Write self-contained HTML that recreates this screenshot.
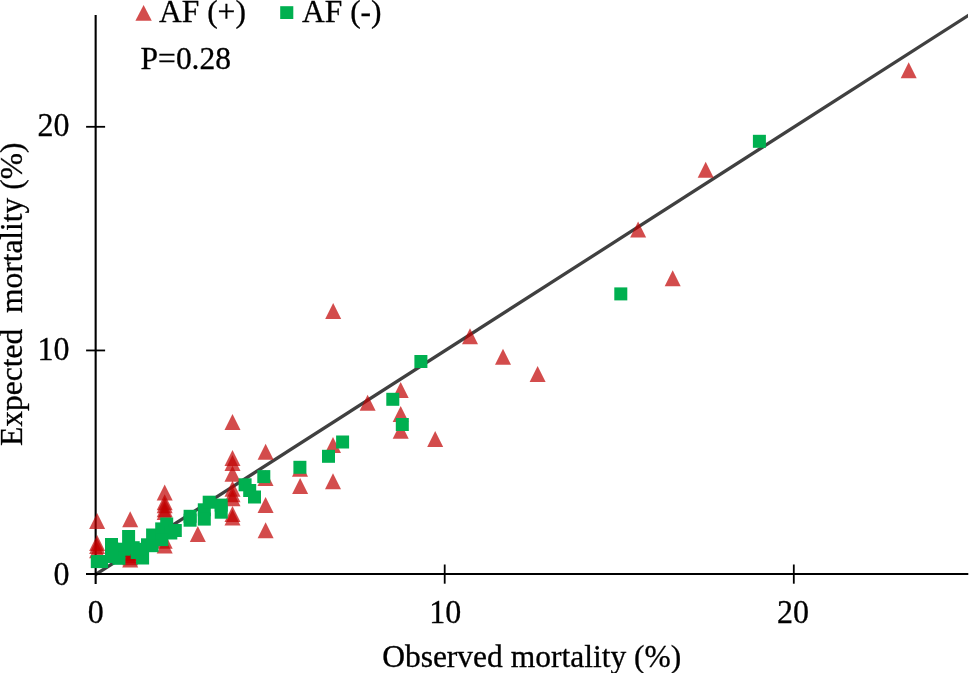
<!DOCTYPE html>
<html><head><meta charset="utf-8"><style>
html,body{margin:0;padding:0;background:#fff;width:969px;height:673px;overflow:hidden}
svg{display:block;will-change:transform}
text{font-family:"Liberation Serif",serif;fill:#000}
</style></head><body>
<svg width="969" height="673" viewBox="0 0 969 673">
<rect width="969" height="673" fill="#fff"/>

<path d="M95.6 572.55L968.0 13.65L968.0 17.55L95.6 576.45Z" fill="#404040"/>
<g stroke="#000" fill="none">
<path d="M95.65 15V584" stroke-width="2.1"/>
<path d="M86 574H968.3" stroke-width="2"/>
<path d="M86.1 350.45H105.1" stroke-width="1.8"/>
<path d="M86.1 126.80H105.1" stroke-width="1.8"/>
<path d="M444.70 564.5V583.7" stroke-width="1.8"/>
<path d="M793.80 564.5V583.7" stroke-width="1.8"/>
</g>
<g fill="#C00000" fill-opacity="0.7">
<path d="M908.7 62.2L916.7 78.2L900.7 78.2Z"/>
<path d="M705.7 161.8L713.7 177.8L697.7 177.8Z"/>
<path d="M638.1 221.5L646.1 237.5L630.1 237.5Z"/>
<path d="M672.7 270.2L680.7 286.2L664.7 286.2Z"/>
<path d="M333.2 303.1L341.2 319.1L325.2 319.1Z"/>
<path d="M470.0 328.3L478.0 344.3L462.0 344.3Z"/>
<path d="M503.0 348.8L511.0 364.8L495.0 364.8Z"/>
<path d="M537.6 366.1L545.6 382.1L529.6 382.1Z"/>
<path d="M400.7 382.0L408.7 398.0L392.7 398.0Z"/>
<path d="M367.6 394.8L375.6 410.8L359.6 410.8Z"/>
<path d="M400.7 405.9L408.7 421.9L392.7 421.9Z"/>
<path d="M400.7 422.7L408.7 438.7L392.7 438.7Z"/>
<path d="M435.2 430.9L443.2 446.9L427.2 446.9Z"/>
<path d="M333.0 437.0L341.0 453.0L325.0 453.0Z"/>
<path d="M333.0 473.2L341.0 489.2L325.0 489.2Z"/>
<path d="M300.0 460.8L308.0 476.8L292.0 476.8Z"/>
<path d="M300.1 478.1L308.1 494.1L292.1 494.1Z"/>
<path d="M265.6 443.7L273.6 459.7L257.6 459.7Z"/>
<path d="M265.5 470.0L273.5 486.0L257.5 486.0Z"/>
<path d="M265.6 496.9L273.6 512.9L257.6 512.9Z"/>
<path d="M265.6 522.2L273.6 538.2L257.6 538.2Z"/>
<path d="M197.8 525.9L205.8 541.9L189.8 541.9Z"/>
<path d="M232.5 413.9L240.5 429.9L224.5 429.9Z"/>
<path d="M232.5 449.9L240.5 465.9L224.5 465.9Z"/>
<path d="M232.5 455.0L240.5 471.0L224.5 471.0Z"/>
<path d="M232.5 465.8L240.5 481.8L224.5 481.8Z"/>
<path d="M232.5 480.7L240.5 496.7L224.5 496.7Z"/>
<path d="M232.5 486.3L240.5 502.3L224.5 502.3Z"/>
<path d="M232.5 490.2L240.5 506.2L224.5 506.2Z"/>
<path d="M232.5 506.0L240.5 522.0L224.5 522.0Z"/>
<path d="M232.5 509.6L240.5 525.6L224.5 525.6Z"/>
<path d="M164.7 484.4L172.7 500.4L156.7 500.4Z"/>
<path d="M164.7 494.2L172.7 510.2L156.7 510.2Z"/>
<path d="M164.7 497.3L172.7 513.3L156.7 513.3Z"/>
<path d="M164.7 501.3L172.7 517.3L156.7 517.3Z"/>
<path d="M164.7 504.1L172.7 520.1L156.7 520.1Z"/>
<path d="M164.7 532.7L172.7 548.7L156.7 548.7Z"/>
<path d="M164.7 537.4L172.7 553.4L156.7 553.4Z"/>
<path d="M130.2 511.3L138.2 527.3L122.2 527.3Z"/>
<path d="M130.2 544.9L138.2 560.9L122.2 560.9Z"/>
<path d="M130.2 547.3L138.2 563.3L122.2 563.3Z"/>
<path d="M130.2 549.2L138.2 565.2L122.2 565.2Z"/>
<path d="M130.2 551.6L138.2 567.6L122.2 567.6Z"/>
<path d="M97.1 512.9L105.1 528.9L89.1 528.9Z"/>
<path d="M97.1 535.0L105.1 551.0L89.1 551.0Z"/>
<path d="M97.1 538.0L105.1 554.0L89.1 554.0Z"/>
<path d="M97.1 542.3L105.1 558.3L89.1 558.3Z"/>
</g>
<g fill="#00B050">
<rect x="752.9" y="134.8" width="13" height="13"/>
<rect x="614.3" y="287.4" width="13" height="13"/>
<rect x="414.4" y="355.0" width="13" height="13"/>
<rect x="386.3" y="392.8" width="13" height="13"/>
<rect x="395.8" y="418.0" width="13" height="13"/>
<rect x="336.1" y="435.5" width="13" height="13"/>
<rect x="322.0" y="449.8" width="13" height="13"/>
<rect x="293.4" y="460.8" width="13" height="13"/>
<rect x="257.3" y="470.1" width="13" height="13"/>
<rect x="238.6" y="478.3" width="13" height="13"/>
<rect x="243.2" y="484.0" width="13" height="13"/>
<rect x="248.0" y="490.5" width="13" height="13"/>
<rect x="197.8" y="503.3" width="13" height="13"/>
<rect x="197.8" y="512.6" width="13" height="13"/>
<rect x="202.7" y="495.7" width="13" height="13"/>
<rect x="214.7" y="498.6" width="13" height="13"/>
<rect x="214.7" y="505.7" width="13" height="13"/>
<rect x="183.6" y="509.8" width="13" height="13"/>
<rect x="183.6" y="513.7" width="13" height="13"/>
<rect x="136.1" y="551.5" width="13" height="13"/>
<rect x="141.0" y="538.3" width="13" height="13"/>
<rect x="146.1" y="528.5" width="13" height="13"/>
<rect x="155.2" y="522.4" width="13" height="13"/>
<rect x="160.2" y="517.5" width="13" height="13"/>
<rect x="168.8" y="524.0" width="13" height="13"/>
<rect x="164.3" y="526.5" width="13" height="13"/>
<rect x="155.3" y="533.1" width="13" height="13"/>
<rect x="145.5" y="539.2" width="13" height="13"/>
<rect x="122.1" y="530.0" width="13" height="13"/>
<rect x="126.7" y="541.2" width="13" height="13"/>
<rect x="105.0" y="538.0" width="13" height="13"/>
<rect x="117.7" y="542.7" width="13" height="13"/>
<rect x="130.7" y="546.0" width="13" height="13"/>
<rect x="133.7" y="542.8" width="13" height="13"/>
<rect x="112.4" y="551.8" width="13" height="13"/>
<rect x="105.3" y="542.3" width="13" height="13"/>
<rect x="105.0" y="550.0" width="13" height="13"/>
<rect x="90.8" y="555.1" width="13" height="13"/>
<rect x="95.1" y="555.0" width="13" height="13"/>
</g>
<g stroke="#000" stroke-width="0.3">
<text transform="translate(69.5 585.0) scale(1 1.05)" font-size="32" text-anchor="end">0</text>
<text transform="translate(69.5 360.0) scale(1 1.05)" font-size="32" text-anchor="end">10</text>
<text transform="translate(69.5 136.2) scale(1 1.05)" font-size="32" text-anchor="end">20</text>
<text transform="translate(95.8 623.0) scale(1 1.05)" font-size="32" text-anchor="middle">0</text>
<text transform="translate(445.2 623.0) scale(1 1.05)" font-size="32" text-anchor="middle">10</text>
<text transform="translate(793.0 623.0) scale(1 1.05)" font-size="32" text-anchor="middle">20</text>
<text transform="translate(531.7 666.6) scale(1 1.03)" font-size="31.5" text-anchor="middle">Observed mortality (%)</text>
<text transform="translate(22.0 294.3) rotate(-90)" font-size="31.5" text-anchor="middle" xml:space="preserve" style="white-space:pre">Expected  mortality (%)</text>
<text transform="translate(159 21.6) scale(1 1.03)" font-size="31.5" text-anchor="start">AF (+)</text>
<text transform="translate(302 21.7) scale(1 1.03)" font-size="31.5" text-anchor="start">AF (-)</text>
<text transform="translate(140.6 69.4) scale(1 1.03)" font-size="31.5" text-anchor="start">P=0.28</text>
</g>
<path d="M143.6 5.1L151.8 20.8L135.4 20.8Z" fill="#C00000" fill-opacity="0.7"/>
<rect x="280.2" y="6.2" width="13.1" height="12.8" fill="#00B050"/>
</svg></body></html>
